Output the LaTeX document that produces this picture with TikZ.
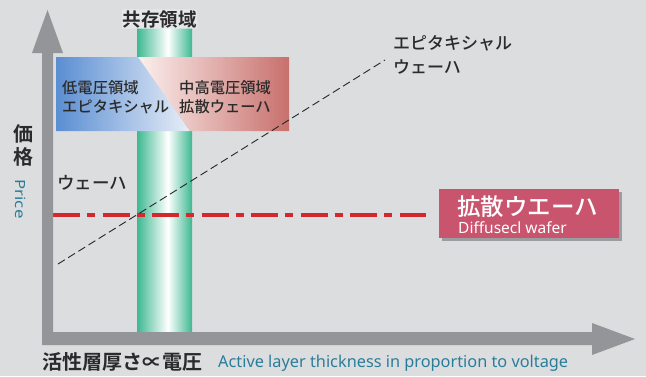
\documentclass[tikz,border=0pt]{standalone}
\usepackage{fontspec}
\setmainfont{Noto Sans CJK JP}[UprightFont=* Medium, BoldFont=* Bold]
\newfontfamily\lat{Noto Sans}
\newfontfamily\latw{Noto Sans}[FakeStretch=1.2]
\usetikzlibrary{calc}
\definecolor{bg}{HTML}{DCDDDF}
\definecolor{axisgray}{HTML}{949598}
\definecolor{bandgreen}{HTML}{3DB890}
\definecolor{boxblue}{HTML}{5A8ED2}
\definecolor{boxblueL}{HTML}{E8EEF8}
\definecolor{boxpinkL}{HTML}{FBF0EE}
\definecolor{boxpink}{HTML}{C8706C}
\definecolor{redline}{HTML}{D4282F}
\definecolor{redbox}{HTML}{C9546E}
\definecolor{shadowgray}{HTML}{9C9DA1}
\definecolor{txt}{HTML}{2B2B2B}
\definecolor{teal}{HTML}{2A7D99}
\pgfdeclarehorizontalshading{bandshade}{100bp}{color(0bp)=(bandgreen); color(25bp)=(bandgreen); color(53bp)=(white); color(75bp)=(bandgreen); color(100bp)=(bandgreen)}
\tikzset{
  jtxt/.style={text=txt, inner sep=0pt, anchor=west},
  ttxt/.style={text=teal, inner sep=0pt},
}
\begin{document}
\begin{tikzpicture}[x=1pt,y=-1pt]
\useasboundingbox (0,0) rectangle (646,376);
\fill[bg] (0,0) rectangle (646,376);
% green coexistence band
\shade[shading=bandshade] (137,28) rectangle (192,333);
% upper box
\shade[left color=boxblue, right color=boxblueL] (56,57) -- (138,57) -- (190,131) -- (56,131) -- cycle;
\shade[left color=boxpinkL, right color=boxpink] (138,57) -- (289,57) -- (289,131) -- (190,131) -- cycle;
\node[jtxt, font=\fontsize{15.3}{17}\selectfont] (lowv) at (62,88) {低電圧領域};
\node[jtxt, font=\fontsize{15.3}{17}\selectfont] (lowe) at (62,107) {エピタキシャル};
\node[jtxt, font=\fontsize{15.3}{17}\selectfont] (midv) at (179,88) {中高電圧領域};
\node[jtxt, font=\fontsize{15.3}{17}\selectfont] (midd) at (179,107) {拡散ウェーハ};
% coexistence label
\node[inner sep=0.8pt, fill=white!30!bg, rounded corners=2pt, text=txt, font=\fontsize{18.5}{20}\selectfont\bfseries] (coex) at (159.5,19) {共存領域};
% red dash-dot line
\coordinate (rs) at (53,215);
\coordinate (re) at (426,215);
\draw[redline, line width=4pt, dash pattern=on 27pt off 7pt on 8pt off 7.5pt] (rs) -- (re);
% black dashed line
\coordinate (bs) at (58,264);
\coordinate (be) at (385,60);
\draw[black!85, line width=0.9pt, dash pattern=on 8pt off 4pt] (bs) -- (be);
% axes
\fill[axisgray] (42,53) -- (32,53) -- (47.5,10) -- (63,53) -- (53,53) -- (53,332) -- (592,332) -- (592,323) -- (635,339) -- (592,355) -- (592,345) -- (42,345) -- cycle;
% labels
\node[jtxt, font=\fontsize{17}{19}\selectfont] (epi1) at (393,43) {エピタキシャル};
\node[jtxt, font=\fontsize{17}{19}\selectfont] (epi2) at (393,67) {ウェーハ};
\node[jtxt, font=\fontsize{17.5}{19}\selectfont] (waf) at (57,183) {ウェーハ};
\node[inner sep=0pt, text=txt, font=\fontsize{20}{22}\selectfont\bfseries] (ka) at (23,134) {価};
\node[inner sep=0pt, text=txt, font=\fontsize{20}{22}\selectfont\bfseries] (ku) at (23,157) {格};
\node[ttxt, rotate=-90, font=\latw\fontsize{14}{16}\selectfont] (price) at (21,199) {Price};
\node[jtxt, font=\fontsize{20}{22}\selectfont\bfseries] (xlab) at (42,362) {活性層厚さ∝電圧};
\node[ttxt, anchor=west, font=\lat\fontsize{16.3}{18}\selectfont] (xen) at (218,363) {Active layer thickness in proportion to voltage};
% red box
\fill[shadowgray] (442,192) rectangle (622,241);
\fill[redbox] (439,189) rectangle (619,238);
\node[inner sep=0pt, anchor=west, text=white, font=\fontsize{23.5}{25}\selectfont] (dj) at (457,207) {拡散ウエーハ};
\node[inner sep=0pt, anchor=west, text=white, font=\lat\fontsize{15.5}{17}\selectfont] (de) at (458,228) {Diffusecl wafer};
\end{tikzpicture}
\end{document}
